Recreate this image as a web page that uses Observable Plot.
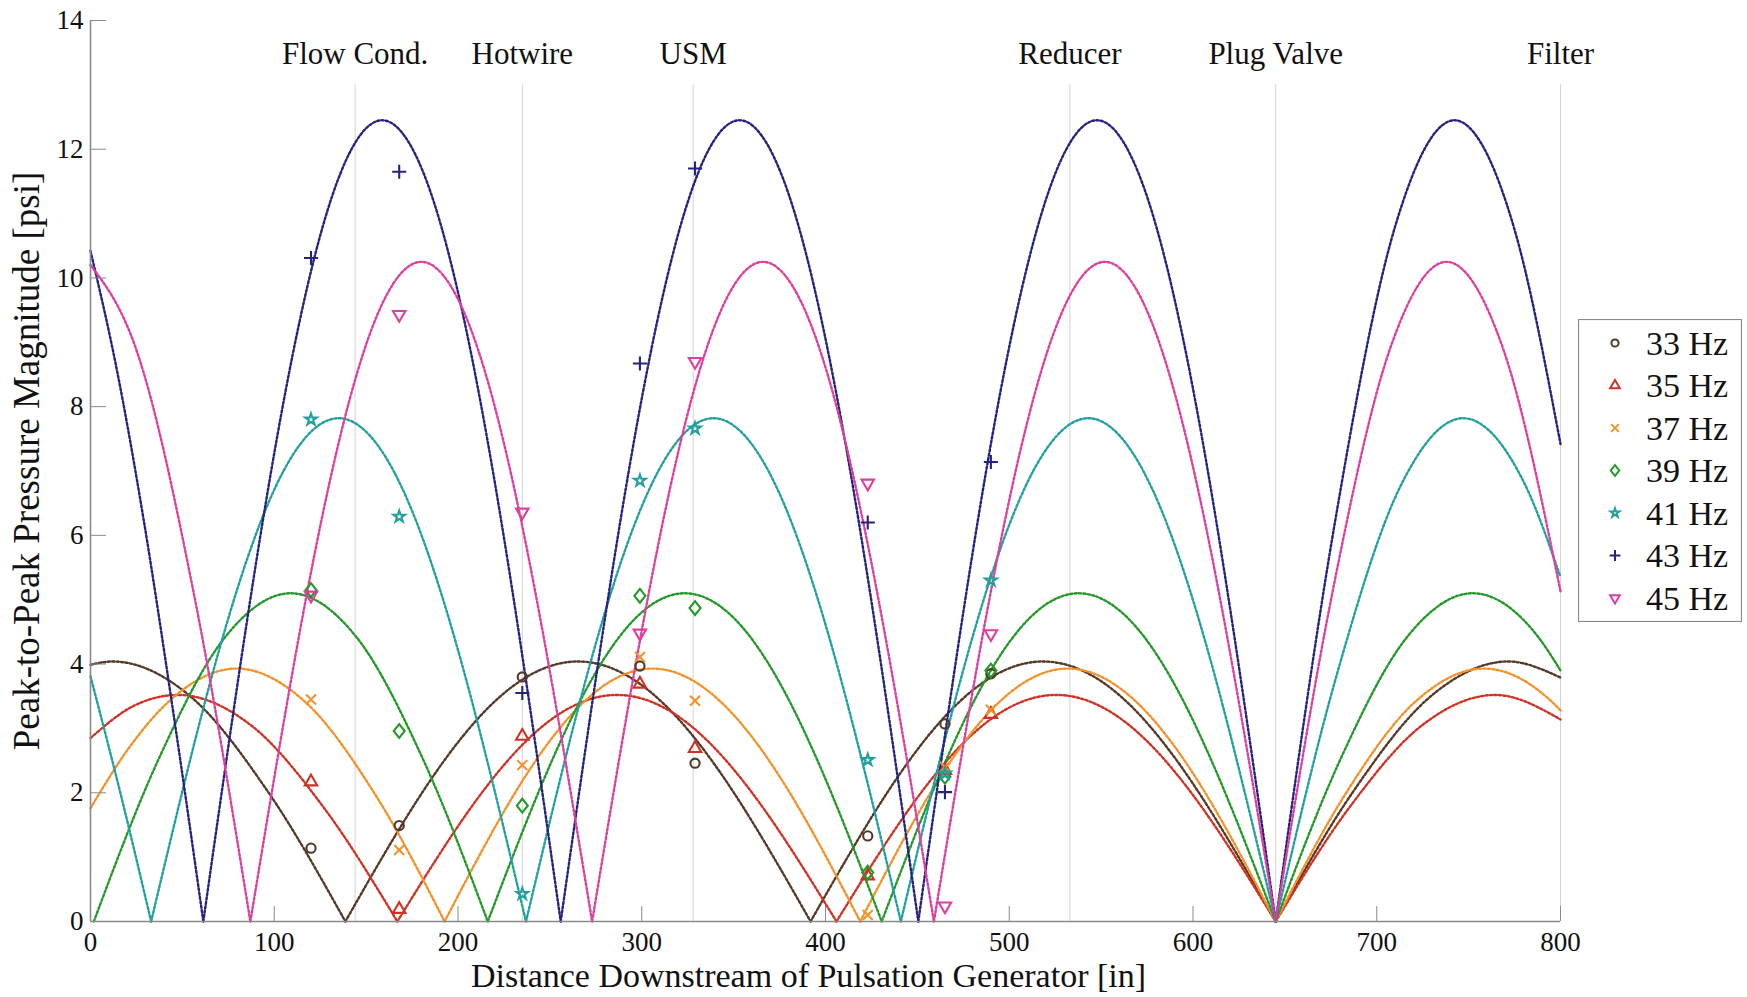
<!DOCTYPE html>
<html><head><meta charset="utf-8">
<script src="https://cdn.jsdelivr.net/npm/d3@7"></script>
<script src="https://cdn.jsdelivr.net/npm/@observablehq/plot@0.6"></script>
<style>
body{margin:0;background:#fff;}
#wrap{position:relative;width:1747px;height:997px;font-family:"Liberation Serif","Times New Roman",serif;}
#legend{position:absolute;left:1578px;top:319px;}
</style></head><body><div id="wrap"></div>
<script>
// ---------- data ----------
const freqs = [33, 35, 37, 39, 41, 43, 45];
const seriesLabels = ["33 Hz", "35 Hz", "37 Hz", "39 Hz", "41 Hz", "43 Hz", "45 Hz"];

const markerX = [120, 168, 235, 299, 329, 423, 465, 490];
const meas33 = [1.14, 1.49, 3.80, 3.97, 2.46, 1.33, 3.07, 3.85];
const meas35 = [2.17, 0.19, 2.88, 3.69, 2.69, 0.71, 2.35, 3.22];
const meas37 = [3.45, 1.11, 2.43, 4.11, 3.43, 0.10, 2.40, 3.29];
const meas39 = [5.15, 2.96, 1.80, 5.06, 4.87, 0.76, 2.25, 3.90];
const meas41 = [7.80, 6.29, 0.43, 6.85, 7.66, 2.51, 2.30, 5.30];
const meas43 = [10.31, 11.65, 3.55, 8.67, 11.70, 6.20, 2.01, 7.14];
const meas45 = [5.07, 9.43, 6.36, 4.48, 8.70, 6.81, 0.24, 4.47];

// predicted standing-wave curves: [x, y]
const curve33 = [
  [[0,3.99],[12.1,4.04],[54.3,3.50],[96.5,2.02],[138.7,0]],
  [[138.7,0],[180.9,2.02],[223.1,3.50],[265.3,4.04],[307.5,3.50],[349.7,2.02],[391.9,0]],
  [[391.9,0],[434.0,2.02],[476.2,3.50],[518.4,4.04],[560.6,3.50],[602.8,2.02],[645,0]],
  [[645,0],[687.2,2.02],[729.4,3.50],[771.6,4.04],[800,3.79]]
];
const curve35 = [
  [[0,2.85],[23.5,3.35],[47.5,3.52],[87.3,3.05],[127.2,1.76],[167,0]],
  [[167,0],[206.8,1.76],[246.7,3.05],[286.5,3.52],[326.3,3.05],[366.2,1.76],[406,0]],
  [[406,0],[445.8,1.76],[485.7,3.05],[525.5,3.52],[565.3,3.05],[605.2,1.76],[645,0]],
  [[645,0],[684.8,1.76],[724.7,3.05],[764.5,3.52],[800,3.14]]
];
const curve37 = [
  [[0,1.76],[21.0,2.70],[41.9,3.40],[79.6,3.93],[117.3,3.40],[155.0,1.97],[192.7,0]],
  [[192.7,0],[230.4,1.97],[268.1,3.40],[305.8,3.93],[343.5,3.40],[381.2,1.97],[418.9,0]],
  [[418.9,0],[456.5,1.97],[494.2,3.40],[531.9,3.93],[569.6,3.40],[607.3,1.97],[645,0]],
  [[645,0],[682.7,1.97],[720.4,3.40],[758.1,3.93],[795.8,3.40],[800,3.28]]
];
const curve39 = [
  [[1.8,0],[37.5,2.55],[73.3,4.42],[109.0,5.10],[144.7,4.42],[180.5,2.55],[216.2,0]],
  [[216.2,0],[251.9,2.55],[287.7,4.42],[323.4,5.10],[359.1,4.42],[394.9,2.55],[430.6,0]],
  [[430.6,0],[466.3,2.55],[502.1,4.42],[537.8,5.10],[573.5,4.42],[609.3,2.55],[645,0]],
  [[645,0],[680.7,2.55],[716.5,4.42],[752.2,5.10],[787.9,4.42],[800,3.90]]
];
const curve41 = [
  [[0,3.81],[16.5,1.97],[33,0]],
  [[33,0],[67,3.91],[101,6.77],[135,7.82],[169,6.77],[203,3.91],[237,0]],
  [[237,0],[271,3.91],[305,6.77],[339,7.82],[373,6.77],[407,3.91],[441,0]],
  [[441,0],[475,3.91],[509,6.77],[543,7.82],[577,6.77],[611,3.91],[645,0]],
  [[645,0],[679,3.91],[713,6.77],[747,7.82],[781,6.77],[800,5.35]]
];
const curve43 = [
  [[0,10.42],[14.5,8.55],[29.0,6.23],[45.2,3.22],[61.4,0]],
  [[61.4,0],[93.8,6.23],[126.2,10.78],[158.7,12.45],[191.1,10.78],[223.5,6.23],[255.9,0]],
  [[255.9,0],[288.4,6.23],[320.8,10.78],[353.2,12.45],[385.6,10.78],[418.0,6.23],[450.5,0]],
  [[450.5,0],[482.9,6.23],[515.3,10.78],[547.7,12.45],[580.2,10.78],[612.6,6.23],[645,0]],
  [[645,0],[677.4,6.23],[709.8,10.78],[742.3,12.45],[774.7,10.78],[800,7.42]]
];
const curve45 = [
  [[0,10.20],[25,8.88],[56,5.13],[87,0]],
  [[87,0],[118,5.13],[149,8.88],[180,10.25],[211,8.88],[242,5.13],[273,0]],
  [[273,0],[304,5.13],[335,8.88],[366,10.25],[397,8.88],[428,5.13],[459,0]],
  [[459,0],[490,5.13],[521,8.88],[552,10.25],[583,8.88],[614,5.13],[645,0]],
  [[645,0],[676,5.13],[707,8.88],[738,10.25],[769,8.88],[800,5.13]]
];

const components = ["Flow Cond.", "Hotwire", "USM", "Reducer", "Plug Valve", "Filter"];
const componentX = [144, 235, 328, 533, 645, 800];
const componentLineTop = 13;

const xTicks = [0, 100, 200, 300, 400, 500, 600, 700, 800];
const yTicks = [0, 2, 4, 6, 8, 10, 12, 14];
const xTitle = "Distance Downstream of Pulsation Generator [in]";
const yTitle = "Peak-to-Peak Pressure Magnitude [psi]";

// ---------- styles ----------
const palette = ["#553827", "#cf3224", "#f3922b", "#23992a", "#22a0a0", "#24237e", "#dc3f9f"];
const triangleDown = {
  draw(ctx, size) {
    const s = Math.sqrt(4 * size / Math.sqrt(3)), h = s * Math.sqrt(3) / 2;
    ctx.moveTo(0, 2 * h / 3); ctx.lineTo(s / 2, -h / 3); ctx.lineTo(-s / 2, -h / 3); ctx.closePath();
  }
};
const diamondWide = {
  draw(ctx, size) {
    const w = Math.sqrt(size / 2) * 0.95, h = Math.sqrt(size / 2) * 1.2;
    ctx.moveTo(0, -h); ctx.lineTo(w, 0); ctx.lineTo(0, h); ctx.lineTo(-w, 0); ctx.closePath();
  }
};
const smallStar = {
  draw(ctx, size) { d3.symbolStar.draw(ctx, size * 0.62); }
};
const symbolsList = [d3.symbolCircle, d3.symbolTriangle, d3.symbolTimes, diamondWide, smallStar, d3.symbolPlus, triangleDown];
const curves = [curve33, curve35, curve37, curve39, curve41, curve43, curve45];
const measures = [meas33, meas35, meas37, meas39, meas41, meas43, meas45];

// ---------- tables ----------
const curveRows = [];
curves.forEach((arches, i) => arches.forEach((arch, j) => arch.forEach(([x, y]) =>
  curveRows.push({freq: freqs[i], seg: i * 10 + j, edge: j === 0 || j === arches.length - 1, x, y}))));
const measRows = [];
measures.forEach((vals, i) => vals.forEach((v, k) => measRows.push({freq: freqs[i], x: markerX[k], y: v})));
const compRows = components.map((name, i) => ({name, x: componentX[i]}));

const FONT = '"Liberation Serif","Times New Roman",serif';
const lineStyle = {x: "x", y: "y", z: "seg", strokeWidth: 2.4, strokeDasharray: "2.2,2.2"};
const marks = [];
marks.push(Plot.ruleX(compRows, {x: "x", y1: 0, y2: componentLineTop, stroke: "#d4d4d4", strokeWidth: 1}));
freqs.forEach((f, i) => {
  marks.push(Plot.line(curveRows.filter(d => d.freq === f && !d.edge), {...lineStyle, curve: "natural", stroke: palette[i]}));
  marks.push(Plot.line(curveRows.filter(d => d.freq === f && d.edge), {...lineStyle, curve: "monotone-x", stroke: palette[i]}));
});
freqs.forEach((f, i) => {
  marks.push(Plot.dot(measRows.filter(d => d.freq === f), {
    x: "x", y: "y", symbol: symbolsList[i], r: 4.6, fill: "none", stroke: palette[i], strokeWidth: 2.1
  }));
});
marks.push(Plot.ruleY([0], {stroke: "#8a8a8a", strokeWidth: 1.6}));
marks.push(Plot.ruleX([0], {stroke: "#8a8a8a", strokeWidth: 1.6}));
marks.push(Plot.axisX(xTicks, {tickSize: -15, tickPadding: 25, fontSize: 27, stroke: "#8a8a8a", fill: "#111", label: null, tickFormat: d => String(d)}));
marks.push(Plot.axisY(yTicks, {tickSize: -16, tickPadding: 23, fontSize: 27, stroke: "#8a8a8a", fill: "#111", label: null, tickFormat: d => String(d)}));
marks.push(Plot.text(compRows, {x: "x", text: "name", frameAnchor: "top", dy: 34, fontSize: 31, fill: "#111", lineAnchor: "middle"}));
marks.push(Plot.text([xTitle], {text: d => d, frameAnchor: "bottom", dy: 55, dx: -17, fontSize: 34, fill: "#111", lineAnchor: "middle", textAnchor: "middle"}));
marks.push(Plot.text([yTitle], {text: d => d, frameAnchor: "left", dx: -63, dy: -10, rotate: -90, fontSize: 37, fill: "#111", lineAnchor: "middle", textAnchor: "middle"}));

const chart = Plot.plot({
  width: 1747, height: 997,
  marginTop: 20, marginRight: 187, marginBottom: 76, marginLeft: 90,
  style: {fontFamily: FONT, background: "#fff", overflow: "visible"},
  x: {domain: [0, 800], axis: null},
  y: {domain: [0, 14], axis: null},
  marks
});
const wrap = document.getElementById("wrap");
wrap.appendChild(chart);

// ---------- legend ----------
const lw = 164, lh = 303;
const leg = d3.select(wrap).append("svg").attr("id", "legend").attr("width", lw).attr("height", lh)
  .style("font-family", FONT);
leg.append("rect").attr("x", 0.5).attr("y", 0.5).attr("width", lw - 1).attr("height", lh - 1)
  .attr("fill", "#fff").attr("stroke", "#8a8a8a").attr("stroke-width", 1.2);
seriesLabels.forEach((lab, i) => {
  const cy = 24 + i * 42.5;
  leg.append("path").attr("transform", `translate(37,${cy})`)
    .attr("d", d3.symbol(symbolsList[i], Math.PI * 3.6 * 3.6)())
    .attr("fill", "none").attr("stroke", palette[i]).attr("stroke-width", 2);
  leg.append("text").attr("x", 68).attr("y", cy).attr("dy", "0.35em")
    .attr("font-size", 34).attr("fill", "#111").text(lab);
});
</script></body></html>
